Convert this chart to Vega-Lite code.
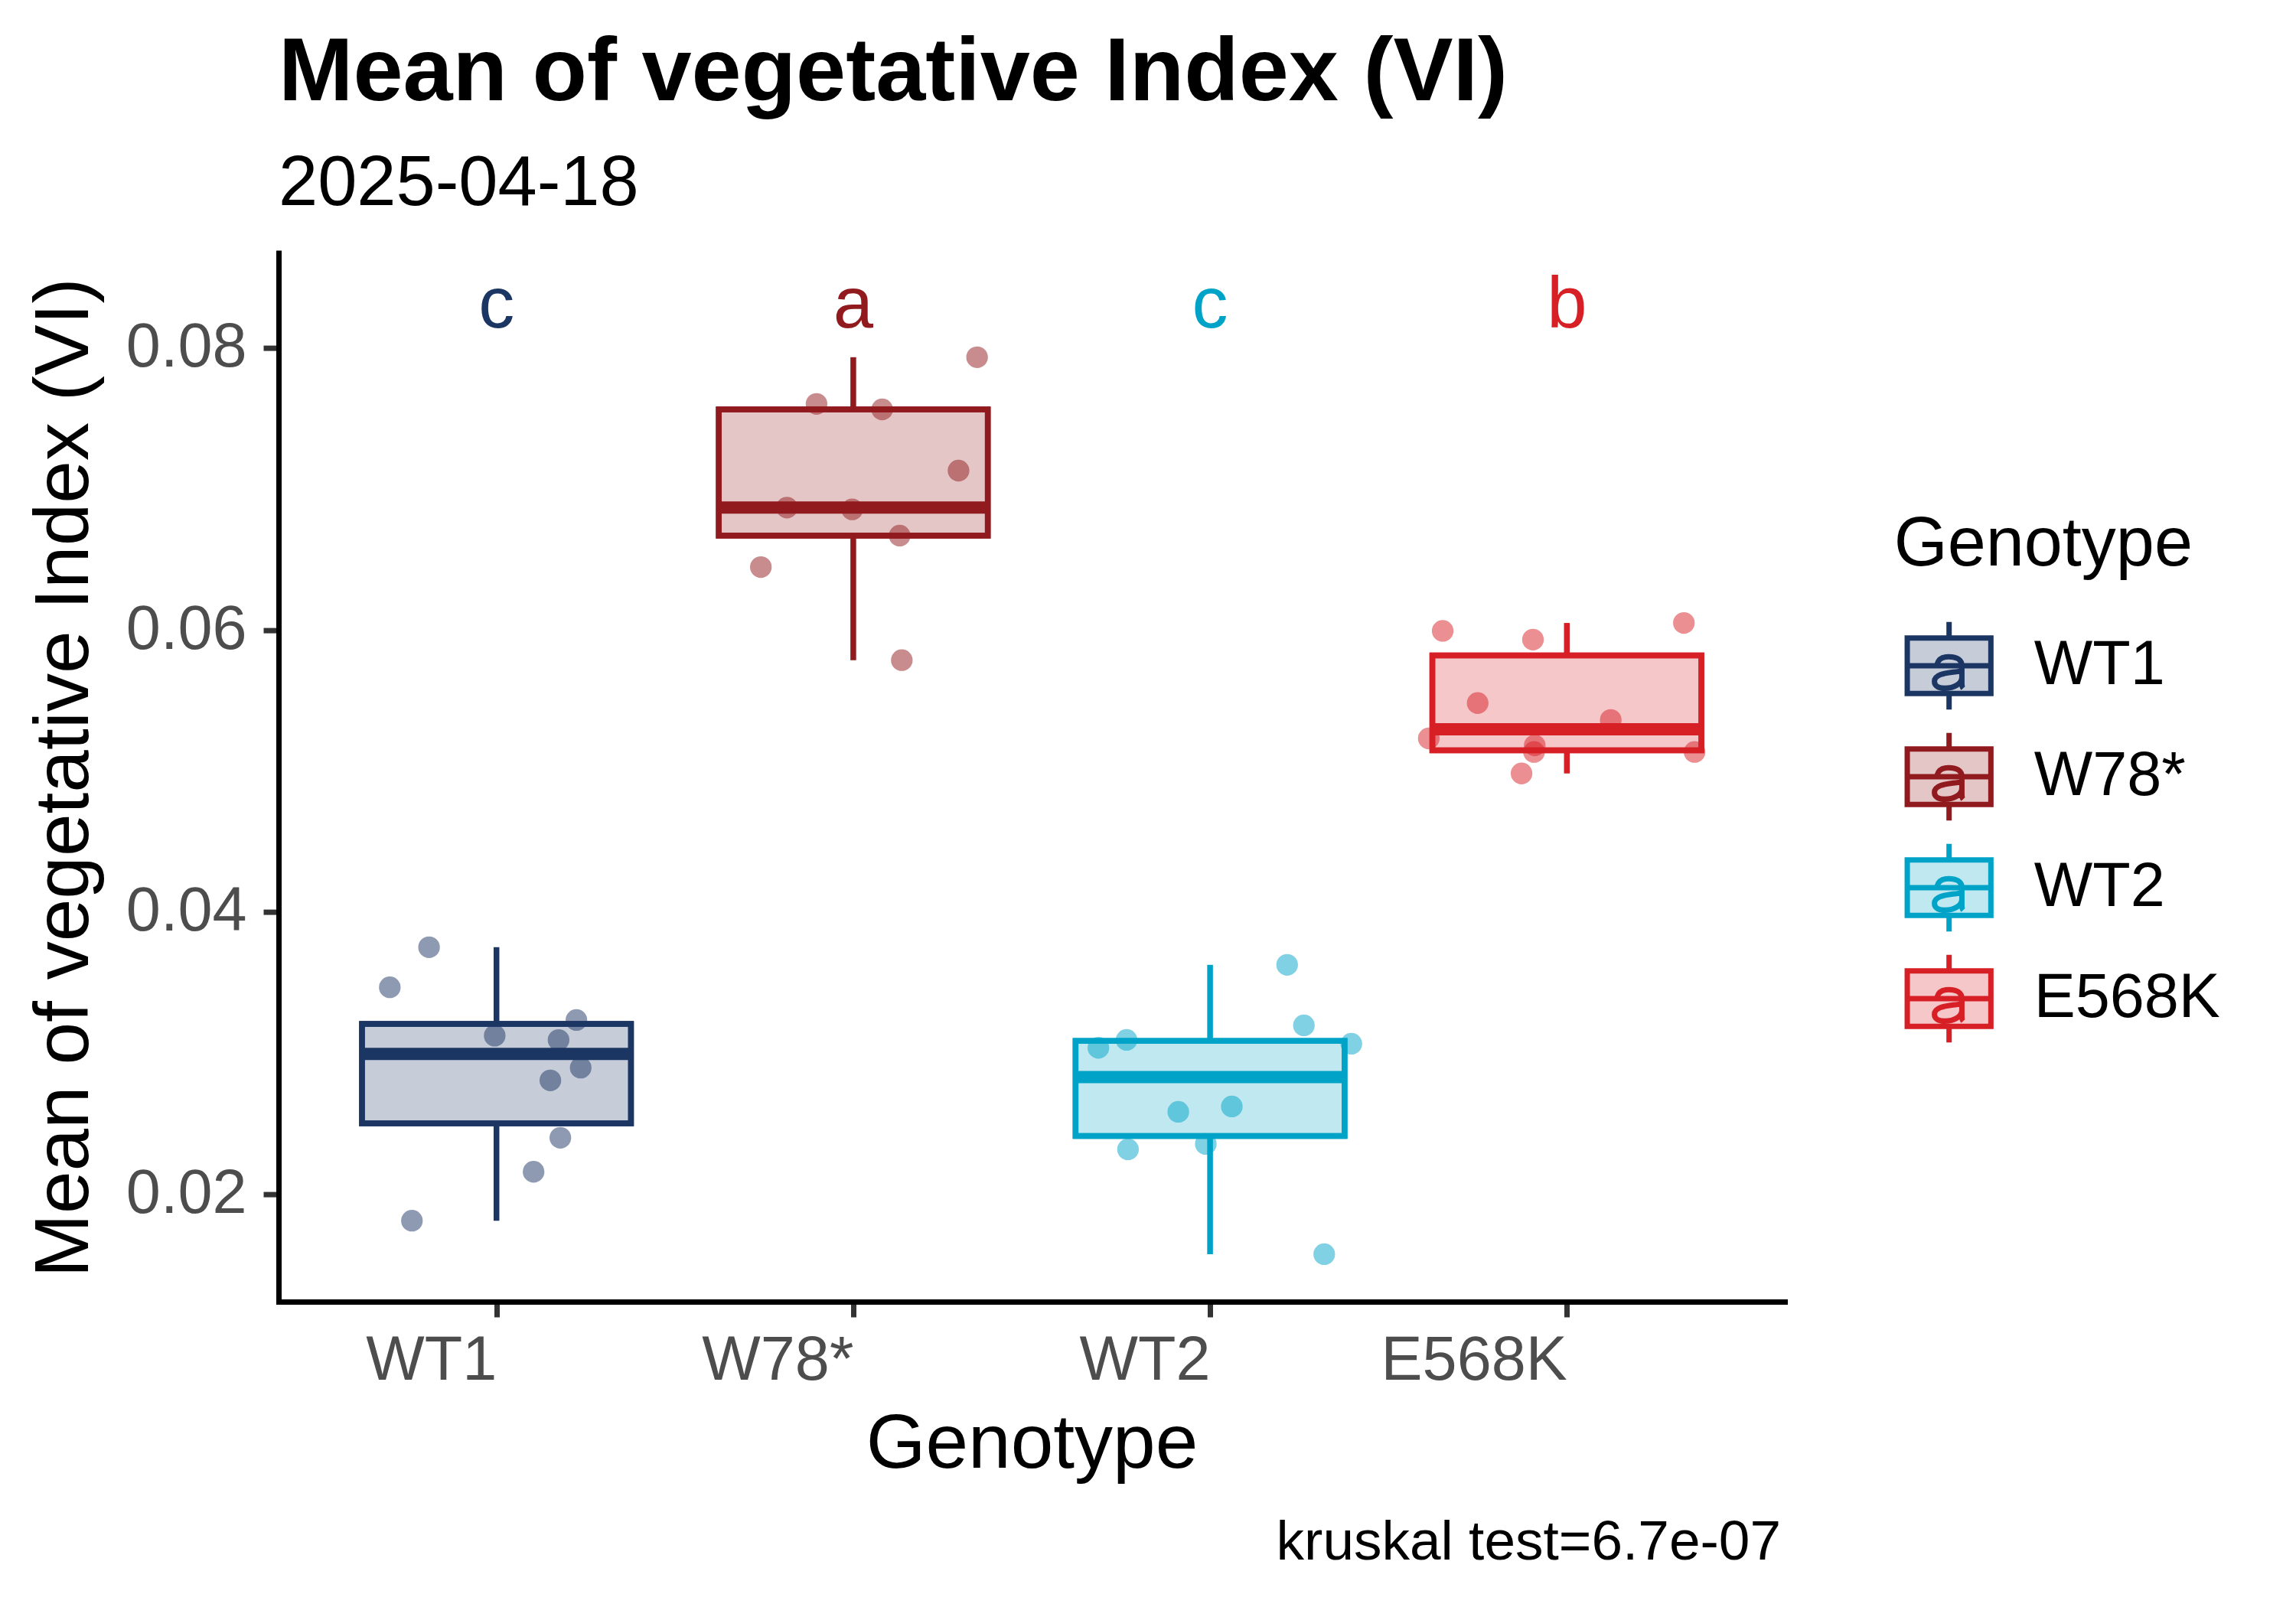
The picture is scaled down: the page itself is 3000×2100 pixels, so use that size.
{
  "$schema": "https://vega.github.io/schema/vega-lite/v6.json",
  "width": 1968,
  "height": 1370.4,
  "autosize": {"type": "none"},
  "padding": {"left": 364, "top": 330.6, "right": 668, "bottom": 399},
  "background": "white",
  "title": {
    "text": "Mean of vegetative Index (VI)",
    "subtitle": "2025-04-18",
    "anchor": "start",
    "frame": "group",
    "font": "Liberation Sans",
    "fontSize": 117,
    "fontWeight": "bold",
    "color": "black",
    "subtitleFont": "Liberation Sans",
    "subtitleFontSize": 92,
    "subtitleColor": "black",
    "subtitlePadding": 39,
    "offset": 43
  },
  "datasets": {
    "vi": [
      {"Genotype": "WT1", "g": 1, "pos": 0.811, "VI": 0.03751},
      {"Genotype": "WT1", "g": 1, "pos": 0.701, "VI": 0.03467},
      {"Genotype": "WT1", "g": 1, "pos": 1.224, "VI": 0.03235},
      {"Genotype": "WT1", "g": 1, "pos": 0.995, "VI": 0.03124},
      {"Genotype": "WT1", "g": 1, "pos": 1.174, "VI": 0.03093},
      {"Genotype": "WT1", "g": 1, "pos": 1.236, "VI": 0.02897},
      {"Genotype": "WT1", "g": 1, "pos": 1.151, "VI": 0.02807},
      {"Genotype": "WT1", "g": 1, "pos": 1.179, "VI": 0.0240},
      {"Genotype": "WT1", "g": 1, "pos": 1.104, "VI": 0.02159},
      {"Genotype": "WT1", "g": 1, "pos": 0.763, "VI": 0.01812},
      {"Genotype": "W78*", "g": 2, "pos": 2.347, "VI": 0.07934},
      {"Genotype": "W78*", "g": 2, "pos": 1.897, "VI": 0.07603},
      {"Genotype": "W78*", "g": 2, "pos": 2.081, "VI": 0.07564},
      {"Genotype": "W78*", "g": 2, "pos": 2.295, "VI": 0.0713},
      {"Genotype": "W78*", "g": 2, "pos": 1.814, "VI": 0.06868},
      {"Genotype": "W78*", "g": 2, "pos": 1.997, "VI": 0.06855},
      {"Genotype": "W78*", "g": 2, "pos": 2.130, "VI": 0.06669},
      {"Genotype": "W78*", "g": 2, "pos": 1.741, "VI": 0.06446},
      {"Genotype": "W78*", "g": 2, "pos": 2.136, "VI": 0.05786},
      {"Genotype": "WT2", "g": 3, "pos": 3.216, "VI": 0.03626},
      {"Genotype": "WT2", "g": 3, "pos": 3.263, "VI": 0.03197},
      {"Genotype": "WT2", "g": 3, "pos": 3.396, "VI": 0.03067},
      {"Genotype": "WT2", "g": 3, "pos": 2.687, "VI": 0.03038},
      {"Genotype": "WT2", "g": 3, "pos": 2.766, "VI": 0.03094},
      {"Genotype": "WT2", "g": 3, "pos": 2.911, "VI": 0.02584},
      {"Genotype": "WT2", "g": 3, "pos": 3.061, "VI": 0.02622},
      {"Genotype": "WT2", "g": 3, "pos": 2.770, "VI": 0.02318},
      {"Genotype": "WT2", "g": 3, "pos": 2.988, "VI": 0.02356},
      {"Genotype": "WT2", "g": 3, "pos": 3.320, "VI": 0.01575},
      {"Genotype": "E568K", "g": 4, "pos": 3.652, "VI": 0.05994},
      {"Genotype": "E568K", "g": 4, "pos": 3.905, "VI": 0.05932},
      {"Genotype": "E568K", "g": 4, "pos": 4.328, "VI": 0.0605},
      {"Genotype": "E568K", "g": 4, "pos": 3.750, "VI": 0.05482},
      {"Genotype": "E568K", "g": 4, "pos": 4.123, "VI": 0.05362},
      {"Genotype": "E568K", "g": 4, "pos": 3.613, "VI": 0.05231},
      {"Genotype": "E568K", "g": 4, "pos": 3.910, "VI": 0.05182},
      {"Genotype": "E568K", "g": 4, "pos": 3.908, "VI": 0.05135},
      {"Genotype": "E568K", "g": 4, "pos": 4.358, "VI": 0.05135},
      {"Genotype": "E568K", "g": 4, "pos": 3.873, "VI": 0.04983}
    ],
    "letters": [
      {"Genotype": "WT1", "g": 1, "letter": "c"},
      {"Genotype": "W78*", "g": 2, "letter": "a"},
      {"Genotype": "WT2", "g": 3, "letter": "c"},
      {"Genotype": "E568K", "g": 4, "letter": "b"}
    ]
  },
  "data": {"name": "vi"},
  "resolve": {"scale": {"color": "independent", "stroke": "independent", "fill": "independent"}},
  "layer": [
    {
      "transform": [
        {
          "aggregate": [
            {"op": "q1", "field": "VI", "as": "q1"},
            {"op": "q3", "field": "VI", "as": "q3"}
          ],
          "groupby": ["Genotype", "g"]
        }
      ],
      "mark": {"type": "bar", "width": 351.5, "strokeWidth": 7.5},
      "encoding": {
        "x": {
          "field": "g",
          "type": "quantitative",
          "title": "Genotype",
          "scale": {"domain": [0.4, 4.6], "nice": false, "zero": false},
          "axis": {
            "values": [1, 2, 3, 4],
            "labelExpr": "['', 'WT1', 'W78*', 'WT2', 'E568K'][datum.value]",
            "labelAlign": "right",
            "labelBaseline": "top",
            "labelPadding": 17,
            "labelFlush": false,
            "labelOverlap": false,
            "labelBound": false,
            "labelLimit": 0,
            "titlePadding": 20
          }
        },
        "y": {
          "field": "q1",
          "type": "quantitative",
          "title": "Mean of vegetative Index (VI)",
          "scale": {"domain": [0.01238, 0.08673], "nice": false, "zero": false},
          "axis": {
            "values": [0.02, 0.04, 0.06, 0.08],
            "format": ".2f",
            "labelPadding": 22,
            "titlePadding": 29
          }
        },
        "y2": {"field": "q3"},
        "color": {
          "field": "Genotype",
          "type": "nominal",
          "title": "Genotype",
          "scale": {
            "domain": ["WT1", "W78*", "WT2", "E568K"],
            "range": ["#C6CDD8", "#E4C6C7", "#BFE8F1", "#F5C7C9"]
          },
          "legend": {
            "title": "Genotype",
            "orient": "none",
            "legendX": 2110.7,
            "legendY": 337.4,
            "padding": 0,
            "symbolType": "M-0.8,-0.53 L0.8,-0.53 L0.8,0.53 L-0.8,0.53 Z M-0.8,0 L0.8,0 M0,-0.53 L0,-0.84 M0,0.53 L0,0.84 M-0.23,-0.03 C-0.2,-0.14 -0.12,-0.173 -0.01,-0.173 C0.17,-0.173 0.245,-0.1 0.245,0 L0.245,0.34 C0.245,0.39 0.25,0.41 0.27,0.43 C0.25,0.41 0.245,0.39 0.245,0.34 L0.245,0 C0.245,-0.1 0.17,-0.173 -0.01,-0.173 C-0.12,-0.173 -0.2,-0.14 -0.23,-0.03 M0.245,0.09 C0.12,0.14 -0.28,0.11 -0.28,0.3 C-0.28,0.39 -0.2,0.43 -0.08,0.43 C0.1,0.43 0.245,0.34 0.245,0.22 C0.245,0.34 0.1,0.43 -0.08,0.43 C-0.2,0.43 -0.28,0.39 -0.28,0.3 C-0.28,0.11 0.12,0.14 0.245,0.09",
            "symbolSize": 18660,
            "symbolStrokeWidth": 7,
            "symbolOpacity": 1,
            "titleFontSize": 90,
            "titleFontWeight": "normal",
            "titleColor": "black",
            "titlePadding": 40,
            "titleLimit": 1000,
            "labelFontSize": 81,
            "labelColor": "black",
            "labelOffset": 39,
            "labelLimit": 0,
            "rowPadding": 1
          }
        },
        "stroke": {
          "field": "Genotype",
          "type": "nominal",
          "title": "Genotype",
          "scale": {
            "domain": ["WT1", "W78*", "WT2", "E568K"],
            "range": ["#1C3664", "#911A1E", "#00A3C8", "#D71F26"]
          },
          "legend": {
            "title": "Genotype",
            "orient": "none",
            "legendX": 2110.7,
            "legendY": 337.4,
            "padding": 0,
            "symbolType": "M-0.8,-0.53 L0.8,-0.53 L0.8,0.53 L-0.8,0.53 Z M-0.8,0 L0.8,0 M0,-0.53 L0,-0.84 M0,0.53 L0,0.84 M-0.23,-0.03 C-0.2,-0.14 -0.12,-0.173 -0.01,-0.173 C0.17,-0.173 0.245,-0.1 0.245,0 L0.245,0.34 C0.245,0.39 0.25,0.41 0.27,0.43 C0.25,0.41 0.245,0.39 0.245,0.34 L0.245,0 C0.245,-0.1 0.17,-0.173 -0.01,-0.173 C-0.12,-0.173 -0.2,-0.14 -0.23,-0.03 M0.245,0.09 C0.12,0.14 -0.28,0.11 -0.28,0.3 C-0.28,0.39 -0.2,0.43 -0.08,0.43 C0.1,0.43 0.245,0.34 0.245,0.22 C0.245,0.34 0.1,0.43 -0.08,0.43 C-0.2,0.43 -0.28,0.39 -0.28,0.3 C-0.28,0.11 0.12,0.14 0.245,0.09",
            "symbolSize": 18660,
            "symbolStrokeWidth": 7,
            "symbolOpacity": 1,
            "titleFontSize": 90,
            "titleFontWeight": "normal",
            "titleColor": "black",
            "titlePadding": 40,
            "titleLimit": 1000,
            "labelFontSize": 81,
            "labelColor": "black",
            "labelOffset": 39,
            "labelLimit": 0,
            "rowPadding": 1
          }
        }
      }
    },
    {
      "mark": {"type": "circle", "size": 800, "opacity": 0.5},
      "encoding": {
        "x": {"field": "pos", "type": "quantitative", "title": "Genotype"},
        "y": {"field": "VI", "type": "quantitative", "title": "Mean of vegetative Index (VI)"},
        "color": {
          "field": "Genotype",
          "type": "nominal",
          "scale": {
            "domain": ["WT1", "W78*", "WT2", "E568K"],
            "range": ["#1C3664", "#911A1E", "#00A3C8", "#D71F26"]
          },
          "legend": null
        }
      }
    },
    {
      "transform": [
        {
          "aggregate": [
            {"op": "min", "field": "VI", "as": "lo"},
            {"op": "q1", "field": "VI", "as": "q1"},
            {"op": "median", "field": "VI", "as": "mid"},
            {"op": "q3", "field": "VI", "as": "q3"},
            {"op": "max", "field": "VI", "as": "hi"}
          ],
          "groupby": ["Genotype", "g"]
        }
      ],
      "encoding": {
        "x": {"field": "g", "type": "quantitative", "title": "Genotype"},
        "stroke": {
          "field": "Genotype",
          "type": "nominal",
          "scale": {
            "domain": ["WT1", "W78*", "WT2", "E568K"],
            "range": ["#1C3664", "#911A1E", "#00A3C8", "#D71F26"]
          },
          "legend": null
        }
      },
      "layer": [
        {
          "mark": {"type": "rule", "strokeWidth": 7.5},
          "encoding": {
            "y": {"field": "lo", "type": "quantitative", "title": "Mean of vegetative Index (VI)"},
            "y2": {"field": "q1"}
          }
        },
        {
          "mark": {"type": "rule", "strokeWidth": 7.5},
          "encoding": {
            "y": {"field": "q3", "type": "quantitative", "title": "Mean of vegetative Index (VI)"},
            "y2": {"field": "hi"}
          }
        },
        {
          "mark": {"type": "bar", "width": 351.5, "filled": false, "strokeWidth": 7.5},
          "encoding": {
            "y": {"field": "q1", "type": "quantitative", "title": "Mean of vegetative Index (VI)"},
            "y2": {"field": "q3"}
          }
        },
        {
          "mark": {"type": "tick", "orient": "horizontal", "size": 351.5, "thickness": 16, "opacity": 1, "strokeWidth": 0},
          "encoding": {
            "y": {"field": "mid", "type": "quantitative", "title": "Mean of vegetative Index (VI)"},
            "fill": {
              "field": "Genotype",
              "type": "nominal",
              "scale": {
                "domain": ["WT1", "W78*", "WT2", "E568K"],
                "range": ["#1C3664", "#911A1E", "#00A3C8", "#D71F26"]
              },
              "legend": null
            }
          }
        }
      ]
    },
    {
      "data": {"name": "letters"},
      "mark": {"type": "text", "fontSize": 94, "align": "center", "baseline": "alphabetic"},
      "encoding": {
        "x": {"field": "g", "type": "quantitative", "title": "Genotype"},
        "y": {"datum": 0.081443},
        "text": {"field": "letter"},
        "color": {
          "field": "Genotype",
          "type": "nominal",
          "scale": {
            "domain": ["WT1", "W78*", "WT2", "E568K"],
            "range": ["#1C3664", "#911A1E", "#00A3C8", "#D71F26"]
          },
          "legend": null
        }
      }
    },
    {
      "data": {"values": [{"note": "kruskal test=6.7e-07"}]},
      "mark": {"type": "text", "fontSize": 73, "align": "right", "baseline": "alphabetic", "color": "black"},
      "encoding": {
        "x": {"datum": 4.6},
        "y": {"datum": -0.005906},
        "text": {"field": "note"}
      }
    }
  ],
  "config": {
    "font": "Liberation Sans",
    "view": {"stroke": null},
    "axis": {
      "grid": false,
      "domainColor": "black",
      "domainWidth": 7,
      "domainCap": "square",
      "tickColor": "#333333",
      "tickWidth": 7,
      "tickSize": 20,
      "labelFont": "Liberation Sans",
      "labelFontSize": 81,
      "labelColor": "#4D4D4D",
      "titleFont": "Liberation Sans",
      "titleFontSize": 100,
      "titleFontWeight": "normal",
      "titleColor": "black"
    },
    "legend": {
      "labelFont": "Liberation Sans",
      "titleFont": "Liberation Sans"
    },
    "text": {"font": "Liberation Sans"}
  }
}
